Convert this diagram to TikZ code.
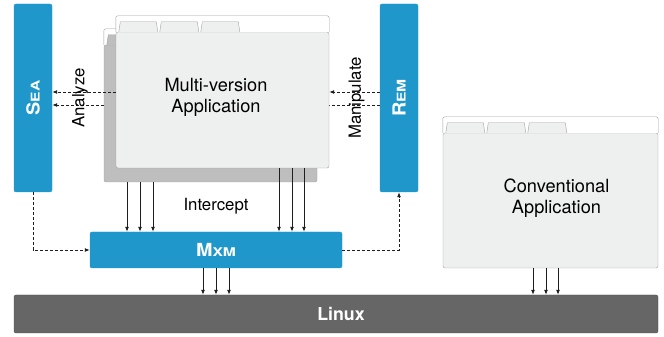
\documentclass[tikz,border=0pt]{standalone}
\usepackage{fontspec}
\setmainfont{TeX Gyre Heros}
\usetikzlibrary{arrows.meta,calc}
\definecolor{myblue}{RGB}{31,151,203}
\definecolor{mylinux}{RGB}{102,102,102}
\definecolor{myfolder}{RGB}{238,239,239}
\definecolor{myshadow}{RGB}{190,190,190}
\definecolor{myline}{RGB}{160,160,160}
\definecolor{mywire}{RGB}{30,30,30}
\newcommand{\sizetext}{\fontsize{16.8}{20.5}\selectfont}
\newcommand{\sizeapp}{\fontsize{18.2}{21}\selectfont}
\newcommand{\modname}[2]{{\bfseries\fontsize{18}{20}\selectfont\scalebox{1.1}[1]{#1}\fontsize{12}{14}\selectfont\scalebox{1.3}[1]{#2}}}
\newcommand{\widthfolder}{213pt}
\newcommand{\heightfolder}{136pt}
\newcommand{\folder}[2]{%
    \draw[myline, fill=white, rounded corners=2pt]
        (#1.north west) -- ++(0,16) -| (#1.north east);
    \foreach \t in {3,44,85}
        \draw[myline, fill=#2]
            ($(#1.north west)+(\t,0)$) -- ++(1.5,10) -- ++(36,0) -- ++(1.5,-10);
}
\tikzset{
    common/.style={draw, rectangle, rounded corners=2pt, inner sep=0pt},
    module/.style={common, draw=myblue, fill=myblue, text=white},
    body/.style={common, draw=myline, minimum width=\widthfolder, minimum height=\heightfolder},
    wire/.style={mywire, line width=0.9pt, -{Latex[length=5pt,width=4pt]}},
    dashwire/.style={wire, dash pattern=on 3pt off 2pt}
}
\begin{document}
\begin{tikzpicture}[x=1pt, y=1pt]
    \useasboundingbox (0,0) rectangle (664,337);

    \node[module, minimum width=38pt, minimum height=188pt] (sea) at (33,239) {\rotatebox{90}{\modname{S}{EA}}};
    \node[module, minimum width=38pt, minimum height=188pt] (rem) at (399,239) {\rotatebox{90}{\modname{R}{EM}}};

    \node[body, fill=myshadow, minimum width=\widthfolder, minimum height=137pt] (mvback) at (210.5,223.5) {};
    \folder{mvback}{myshadow}
    \draw[dashwire] ($(rem.west)+(0,-7)$) -- ($(mvback.east |- rem.west)+(0,-7)$);

    \node[body, fill=myfolder] (mv) at (222.5,237) {};
    \folder{mv}{myfolder}
    \node[body, fill=myfolder, minimum width=215pt, minimum height=135pt] (conv) at (550.5,136.5) {};
    \folder{conv}{myfolder}

    \node[module, minimum width=252pt, minimum height=36pt] (mxm) at (216,87) {\modname{M}{XM}};
    \node[common, draw=black!70, fill=mylinux, text=white, minimum width=644pt, minimum height=38pt] (linux) at (336,23) {\hspace{10pt}\bfseries\fontsize{17.8}{20}\selectfont Linux};

    \draw[dashwire] ($(mv.west |- sea.east)+(0,6)$) -- ($(sea.east)+(0,6)$);
    \draw[dashwire] ($(mvback.west |- sea.east)+(0,-7)$) -- ($(sea.east)+(0,-7)$);
    \draw[dashwire] ($(rem.west)+(0,6)$) -- ($(mv.east |- rem.west)+(0,6)$);
    \draw[dashwire] (sea.south) |- (mxm.west);
    \draw[dashwire] (mxm.east) -| (rem.south);

    \foreach \dx in {-89,-76,-63}
        \draw[wire] ($(mvback.south -| mxm.north)+(\dx,0)$) -- ($(mxm.north)+(\dx,0)$);
    \foreach \dx in {63,76,88}
        \draw[wire] ($(mv.south -| mxm.north)+(\dx,0)$) -- ($(mxm.north)+(\dx,0)$);
    \foreach \dx in {-13,0,13}
        \draw[wire] ($(mxm.south)+(\dx,0)$) -- ($(linux.north -| mxm.south)+(\dx,0)$);
    \foreach \dx in {-17.5,-4.5,7.5}
        \draw[wire] ($(conv.south)+(\dx,0)$) -- ($(linux.north -| conv.south)+(\dx,0)$);

    \node[align=center, font=\sizeapp] (mvname) at (216,240) {Multi-version\\Application};
    \node[align=center, font=\sizeapp] (convname) at (556.5,139) {Conventional\\Application};
    \node[font=\sizetext] (intercept) at (216,131) {Intercept};
    \node[font=\sizetext, rotate=90] (analyze) at (80,239) {Analyze};
    \node[font=\sizetext, rotate=90] (manipulate) at (356.5,239) {Manipulate};
\end{tikzpicture}
\end{document}
